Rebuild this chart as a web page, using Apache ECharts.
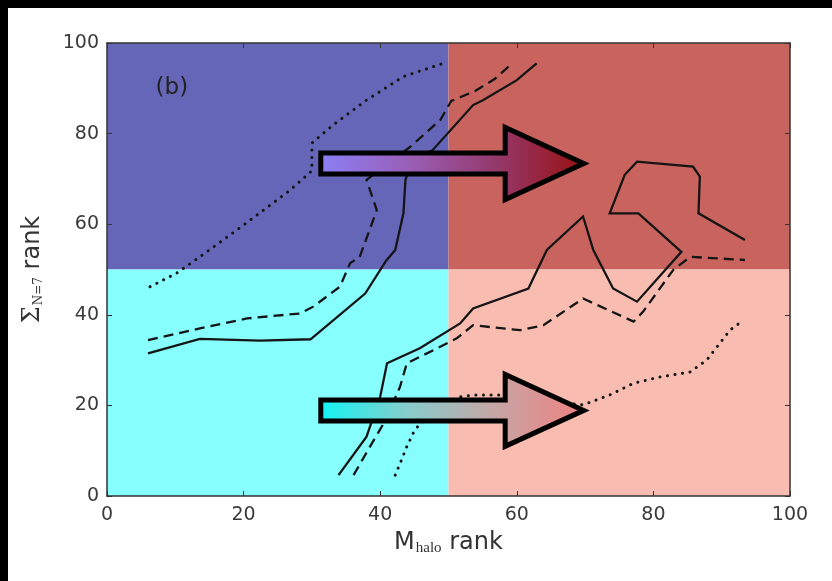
<!DOCTYPE html>
<html>
<head>
<meta charset="utf-8">
<script src="https://cdn.jsdelivr.net/npm/echarts@6/dist/echarts.min.js"></script>
<style>
  html, body { margin: 0; padding: 0; background: #fff; }
  #chart { width: 832px; height: 581px; }
</style>
</head>
<body>
<div id="chart"></div>
<script>
// Axis ticks
const xTicks = [0, 20, 40, 60, 80, 100];
const yTicks = [0, 20, 40, 60, 80, 100];

// Quadrant split (rank 50 on both axes)
const splitX = 50;
const splitY = 50;

// Upper-left group of contours: [M_halo rank, Sigma rank]
const solidUpper = [[6.0,31.5],[13.6,34.7],[22.4,34.3],[29.8,34.6],[37.8,44.7],[40.9,52.0],[42.2,54.3],[43.4,62.4],[43.7,69.8],[44.6,74.0],[47.7,76.4],[53.6,86.3],[55.1,87.4],[60.0,91.8],[62.9,95.5]];
const dashedUpper = [[6.0,34.4],[13.6,37.0],[20.5,39.2],[28.3,40.3],[30.2,41.8],[34.1,46.2],[35.6,51.4],[37.0,52.8],[39.5,63.1],[38.0,69.8],[44.4,77.1],[48.8,83.0],[50.4,87.2],[53.9,89.4],[56.8,92.1],[59.4,95.6]];
const dottedUpper = [[6.3,46.2],[10.2,49.2],[13.6,52.8],[20.0,59.8],[26.8,67.5],[30.0,71.8],[30.0,77.9],[33.1,81.9],[38.0,87.4],[43.4,92.6],[49.2,95.5]];

// Lower-right group of contours
const solidLower = [[33.9,4.6],[38.0,13.1],[40.0,21.9],[41.0,29.3],[45.8,32.6],[51.7,38.1],[53.6,41.4],[61.7,45.8],[64.4,54.3],[69.7,61.7],[71.2,54.3],[74.1,45.8],[77.6,42.9],[84.1,53.9],[77.8,62.4],[73.6,62.4],[75.8,70.9],[77.6,73.8],[85.8,72.7],[86.8,70.5],[86.6,62.4],[93.4,56.5]];
const dashedLower = [[36.1,4.6],[38.5,10.9],[40.5,16.0],[42.9,24.1],[43.9,29.3],[47.8,32.2],[51.2,34.8],[53.6,37.7],[60.5,36.6],[63.9,37.7],[69.7,43.6],[77.1,38.5],[78.5,40.7],[82.9,49.9],[85.4,52.8],[93.4,52.1]];
const dottedLower = [[42.2,4.6],[43.1,7.9],[43.9,10.9],[44.8,13.8],[45.8,16.0],[51.7,21.9],[53.6,22.3],[57.5,22.3],[63.5,21.2],[69.7,20.1],[73.6,22.3],[77.1,24.9],[81.0,26.3],[85.4,27.4],[87.8,30.0],[91.2,36.6],[92.9,38.5]];

// Arrow annotations, in data units: [tailX, headBaseX, tipX, centreY]
const arrowUpper = [31.3, 58.3, 69.8, 73.4];
const arrowLower = [31.3, 58.3, 69.8, 18.9];

const panelLabel = '(b)';
const panelLabelPos = [9.5, 90];

const chart = echarts.init(document.getElementById('chart'), null, { renderer: 'canvas' });

const frame = '#333';
const tickFont = { fontFamily: 'DejaVu Sans', fontSize: 19, color: '#3a3a3a' };

function contour(data, type) {
  return {
    type: 'line',
    data: data,
    showSymbol: false,
    symbol: 'none',
    z: 3,
    silent: true,
    lineStyle: {
      color: '#151515',
      width: type === 'dotted' ? 3 : 2.3,
      type: type === 'solid' ? 'solid' : (type === 'dashed' ? [10, 6] : [0.1, 7.5]),
      cap: type === 'dotted' ? 'round' : 'butt',
      join: 'miter'
    }
  };
}

const baseX = {
  type: 'value', min: 0, max: 100, interval: 20, z: 10,
  splitLine: { show: false },
  axisLine: { show: true, onZero: false, lineStyle: { color: frame, width: 1.5 } },
  axisTick: { show: true, inside: true, length: 5, lineStyle: { color: frame, width: 1 } }
};

chart.setOption({
  animation: false,
  backgroundColor: '#fff',
  grid: { left: 107, right: 42, top: 43, bottom: 85 },
  xAxis: [
    Object.assign({}, baseX, {
      position: 'bottom',
      axisLabel: Object.assign({ margin: 10 }, tickFont, { formatter: v => xTicks.includes(v) ? String(v) : '' }),
      name: '{m|M}{sub|halo}{r| rank}',
      nameLocation: 'middle',
      nameGap: 33,
      nameTextStyle: {
        rich: {
          m: { fontFamily: 'DejaVu Sans', fontSize: 24, color: '#333' },
          sub: { fontFamily: 'Liberation Serif', fontSize: 15, color: '#333', padding: [12, 0, 0, 1] },
          r: { fontFamily: 'DejaVu Sans', fontSize: 24, color: '#333' }
        }
      }
    }),
    Object.assign({}, baseX, { position: 'top', axisLabel: { show: false } })
  ],
  yAxis: [
    Object.assign({}, baseX, {
      position: 'left',
      axisLabel: Object.assign({ margin: 8 }, tickFont, { formatter: v => yTicks.includes(v) ? String(v) : '' }),
      name: '{s|Σ}{sub|N=7}{r| rank}',
      nameLocation: 'middle',
      nameRotate: 90,
      nameGap: 62,
      nameTextStyle: {
        rich: {
          s: { fontFamily: 'DejaVu Serif', fontSize: 24, color: '#333' },
          sub: { fontFamily: 'DejaVu Serif', fontSize: 12, color: '#333', padding: [12, 0, 0, 1] },
          r: { fontFamily: 'DejaVu Sans', fontSize: 24, color: '#333' }
        }
      }
    }),
    Object.assign({}, baseX, { position: 'right', axisLabel: { show: false } })
  ],
  series: [
    {
      type: 'line', data: [], z: 0, silent: true,
      markArea: {
        silent: true,
        label: { show: false },
        data: [
          [{ xAxis: 0, yAxis: splitY, itemStyle: { color: '#6666b8' } }, { xAxis: splitX, yAxis: 100 }],
          [{ xAxis: splitX, yAxis: splitY, itemStyle: { color: '#c8635e' } }, { xAxis: 100, yAxis: 100 }],
          [{ xAxis: 0, yAxis: 0, itemStyle: { color: '#88ffff' } }, { xAxis: splitX, yAxis: splitY }],
          [{ xAxis: splitX, yAxis: 0, itemStyle: { color: '#f8bcb0' } }, { xAxis: 100, yAxis: splitY }]
        ],
        itemStyle: { opacity: 1, borderWidth: 0 }
      }
    },
    contour(solidUpper, 'solid'),
    contour(dashedUpper, 'dashed'),
    contour(dottedUpper, 'dotted'),
    contour(solidLower, 'solid'),
    contour(dashedLower, 'dashed'),
    contour(dottedLower, 'dotted')
  ]
});

// Block arrows and the panel label, placed through the grid's coordinate system
function arrowShape(spec, shaftHalf, headHalf) {
  const tail = chart.convertToPixel({ gridIndex: 0 }, [spec[0], spec[3]]);
  const base = chart.convertToPixel({ gridIndex: 0 }, [spec[1], spec[3]]);
  const tip = chart.convertToPixel({ gridIndex: 0 }, [spec[2], spec[3]]);
  const cy = tail[1];
  return [
    [tail[0], cy - shaftHalf], [base[0], cy - shaftHalf], [base[0], cy - headHalf],
    [tip[0], cy], [base[0], cy + headHalf], [base[0], cy + shaftHalf], [tail[0], cy + shaftHalf]
  ];
}

function gradient(stops) {
  return {
    type: 'linear', x: 0, y: 0, x2: 1, y2: 0,
    colorStops: stops.map((c, i) => ({ offset: i / (stops.length - 1), color: c }))
  };
}

const labelPx = chart.convertToPixel({ gridIndex: 0 }, panelLabelPos);

chart.setOption({
  graphic: [
    { type: 'rect', shape: { x: 0, y: 0, width: 832, height: 8 }, style: { fill: '#000' }, z: 100, silent: true },
    { type: 'rect', shape: { x: 0, y: 0, width: 8, height: 581 }, style: { fill: '#000' }, z: 100, silent: true },
    {
      type: 'polygon', z: 50, silent: true,
      shape: { points: arrowShape(arrowUpper, 10.5, 36) },
      style: {
        fill: gradient(['#8a80f8', '#9a5fb8', '#94386a', '#9a1010']),
        stroke: '#000', lineWidth: 5, lineJoin: 'miter', miterLimit: 10
      }
    },
    {
      type: 'polygon', z: 50, silent: true,
      shape: { points: arrowShape(arrowLower, 10.5, 36) },
      style: {
        fill: gradient(['#10f4f4', '#88cccc', '#c8a4a4', '#f08080']),
        stroke: '#000', lineWidth: 5, lineJoin: 'miter', miterLimit: 10
      }
    },
    {
      type: 'text', z: 50, silent: true,
      x: labelPx[0], y: labelPx[1],
      style: {
        text: panelLabel, fontFamily: 'DejaVu Sans', fontSize: 23, fill: '#222',
        align: 'center', verticalAlign: 'middle'
      }
    }
  ]
});
</script>
</body>
</html>
